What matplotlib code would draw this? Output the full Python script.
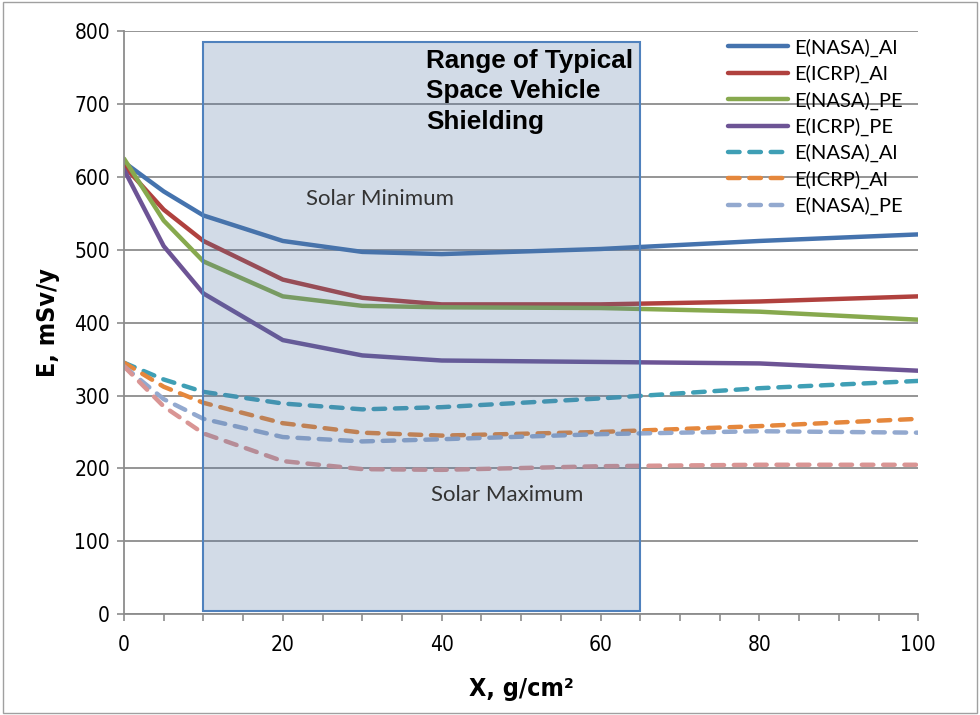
import matplotlib
matplotlib.use('Agg')
import matplotlib.pyplot as plt
from matplotlib.patches import Rectangle

# shielding thickness, g/cm2
x = [0, 5, 10, 20, 30, 40, 60, 80, 100]

# solar minimum, mSv/y
nasa_al_min = [620, 580, 547, 512, 497, 494, 501, 512, 521]
icrp_al_min = [615, 555, 512, 459, 434, 425, 425, 429, 436]
nasa_pe_min = [625, 540, 484, 436, 423, 421, 420, 415, 404]
icrp_pe_min = [610, 505, 440, 376, 355, 348, 346, 344, 334]

# solar maximum, mSv/y
nasa_al_max = [345, 322, 305, 289, 281, 284, 296, 310, 320]
icrp_al_max = [345, 312, 290, 262, 249, 245, 250, 258, 268]
nasa_pe_max = [340, 295, 268, 243, 237, 240, 247, 251, 249]
icrp_pe_max = [340, 285, 248, 210, 199, 198, 203, 205, 205]

shield_range = [10, 65]

fig = plt.figure(figsize=(9.8, 7.15), dpi=100)
ax = fig.add_axes([0.1265, 0.141, 0.8105, 0.8156])

solid = dict(lw=3.2, solid_capstyle='round', zorder=2)
dash = dict(lw=3.2, dashes=(2.6, 2.2), dash_capstyle='round', zorder=2)

ax.plot(x, nasa_al_min, color='#4573AE', label='E(NASA)_Al', **solid)
ax.plot(x, icrp_al_min, color='#B0413E', label='E(ICRP)_Al', **solid)
ax.plot(x, nasa_pe_min, color='#87A94E', label='E(NASA)_PE', **solid)
ax.plot(x, icrp_pe_min, color='#6D5495', label='E(ICRP)_PE', **solid)
ax.plot(x, nasa_al_max, color='#3F9FB5', label='E(NASA)_Al', **dash)
ax.plot(x, icrp_al_max, color='#E5873C', label='E(ICRP)_Al', **dash)
ax.plot(x, nasa_pe_max, color='#93A9CF', label='E(NASA)_PE', **dash)
ax.plot(x, icrp_pe_max, color='#D99594', **dash)

# translucent box over the typical vehicle shielding range
ax.add_patch(Rectangle((shield_range[0], 5), shield_range[1] - shield_range[0], 780,
                       facecolor=(0.31, 0.45, 0.64, 0.25), edgecolor='#4F81BD',
                       lw=1.5, zorder=3))

ax.text(38.0, 776, 'Range of Typical\nSpace Vehicle\nShielding', fontsize=18.8, fontweight='bold',
        family='Liberation Sans', va='top', ha='left', linespacing=1.36, zorder=4)
ax.text(32.2, 570, 'Solar Minimum', fontsize=16, color='#333333', family='Lato',
        ha='center', va='center', zorder=4)
ax.text(48.2, 164, 'Solar Maximum', fontsize=16, color='#333333', family='Lato',
        ha='center', va='center', zorder=4)

ax.set_xlim(0, 100)
ax.set_ylim(0, 800)
ax.set_xticks(range(0, 101, 20))
ax.set_xticks(range(0, 101, 5), minor=True)
ax.set_yticks(range(0, 801, 100))
ax.yaxis.grid(True, color='#8C8C8C', lw=1.3, zorder=0)
ax.set_axisbelow(True)

for s in ['top', 'right']:
    ax.spines[s].set_visible(False)
for s in ['left', 'bottom']:
    ax.spines[s].set_color('#8C8C8C')
    ax.spines[s].set_linewidth(1.3)
ax.tick_params(axis='both', which='both', direction='out', color='#8C8C8C', width=1.2,
               labelsize=15, length=5)
ax.tick_params(axis='x', which='major', pad=10)
ax.tick_params(axis='y', which='major', pad=5)
for lab in ax.get_xticklabels() + ax.get_yticklabels():
    lab.set_family('DejaVu Sans')
    lab.set_stretch('condensed')

ax.set_xlabel('X, g/cm²', fontsize=18, fontweight='bold', family='DejaVu Sans',
              stretch='condensed', labelpad=16)
ax.set_ylabel('E, mSv/y', fontsize=18, fontweight='bold', family='DejaVu Sans',
              stretch='condensed', labelpad=10)

ax.legend(loc='upper left', bbox_to_anchor=(0.745, 1.008), frameon=False,
          prop={'family': 'Lato', 'size': 14.5}, handlelength=3.0, handletextpad=0.3,
          labelspacing=0.4, borderaxespad=0.2)

fig.patches.append(Rectangle((0.003, 0.003), 0.994, 0.994, transform=fig.transFigure,
                             fill=False, edgecolor='#A0A0A0', lw=1))

fig.savefig('out.png', dpi=100)
